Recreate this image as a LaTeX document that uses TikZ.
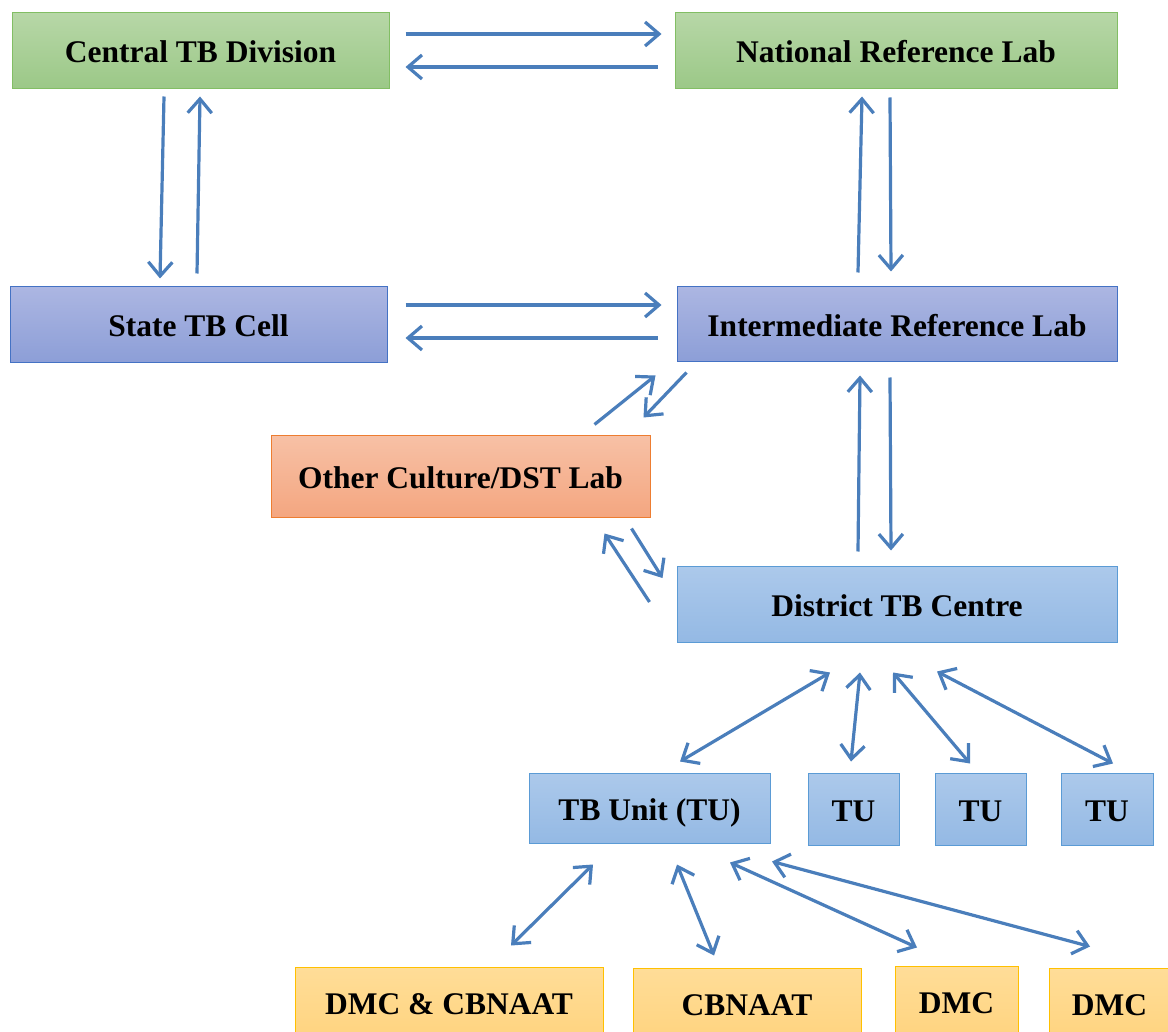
\documentclass[tikz,border=0pt]{standalone}
\usepackage{fontspec}
\setmainfont{Liberation Serif}
\usepackage{xcolor}
\usepackage{tikz}
\usetikzlibrary{positioning}
\usetikzlibrary{arrows.meta}

\definecolor{linkblue}{RGB}{74,126,187}
\definecolor{greentop}{RGB}{183,215,167}
\definecolor{greenbot}{RGB}{155,200,135}
\definecolor{greenline}{RGB}{130,190,100}
\definecolor{bluetop}{RGB}{172,182,226}
\definecolor{bluebot}{RGB}{140,158,215}
\definecolor{blueline}{RGB}{68,114,196}
\definecolor{skytop}{RGB}{172,201,235}
\definecolor{skybot}{RGB}{148,185,228}
\definecolor{skyline}{RGB}{91,155,213}
\definecolor{orangetop}{RGB}{247,193,166}
\definecolor{orangebot}{RGB}{244,166,128}
\definecolor{orangeline}{RGB}{237,125,49}
\definecolor{yellowtop}{RGB}{255,221,152}
\definecolor{yellowbot}{RGB}{255,212,128}
\definecolor{yellowline}{RGB}{255,192,0}

\begin{document}
\begin{tikzpicture}[
x=1pt, y=-1pt,
basebox/.style={rectangle, inner sep=0pt, line width=1pt, align=center, text height=26pt, text depth=2pt, font=\fontsize{31.5}{36}\selectfont\bfseries},
centralnode/.style={basebox, draw=greenline, top color=greentop, bottom color=greenbot},
statenode/.style={basebox, draw=blueline, top color=bluetop, bottom color=bluebot},
districtnode/.style={basebox, draw=skyline, top color=skytop, bottom color=skybot},
culturenode/.style={basebox, draw=orangeline, top color=orangetop, bottom color=orangebot},
labnode/.style={basebox, draw=yellowline, top color=yellowtop, bottom color=yellowbot},
link/.style={draw=linkblue, line width=3.2pt, -{Straight Barb[length=14pt,width=24pt]}},
twolink/.style={draw=linkblue, line width=3.2pt, {Straight Barb[length=14pt,width=24pt]}-{Straight Barb[length=14pt,width=24pt]}},
]
\useasboundingbox (0,0) rectangle (1168,1032);
\clip (0,0) rectangle (1168,1032);

%Nodes
\node[centralnode, minimum width=377pt, minimum height=76pt]	(ctd)	at (200.5,51)	{Central TB Division};
\node[centralnode, minimum width=442pt, minimum height=76pt]	(nrl)	at (896,51)		{National Reference Lab};
\node[statenode, minimum width=377pt, minimum height=76pt]		(stc)	at (198.5,325)	{State TB Cell};
\node[statenode, minimum width=440pt, minimum height=75pt]		(irl)	at (897,324.5)	{Intermediate Reference Lab};
\node[culturenode, minimum width=379pt, minimum height=82pt]	(oth)	at (460.5,476)	{Other Culture/DST Lab};
\node[districtnode, minimum width=440pt, minimum height=76pt]	(dtc)	at (897,604)	{District TB Centre};
\node[districtnode, minimum width=241pt, minimum height=70pt]	(tbu)	at (649.5,808)	{TB Unit (TU)};
\node[districtnode, minimum width=91pt, minimum height=72pt]	(tu1)	at (853.5,809)	{TU};
\node[districtnode, minimum width=91pt, minimum height=72pt]	(tu2)	at (980.5,809)	{TU};
\node[districtnode, minimum width=92pt, minimum height=72pt]	(tu3)	at (1107,809)	{TU};
\node[labnode, minimum width=308pt, minimum height=70pt]		(dc)	at (449,1002)	{DMC \& CBNAAT};
\node[labnode, minimum width=228pt, minimum height=70pt]		(cb)	at (747,1003)	{CBNAAT};
\node[labnode, minimum width=123pt, minimum height=70pt]		(dm1)	at (956.5,1001)	{DMC};
\node[labnode, minimum width=121pt, minimum height=70pt]		(dm2)	at (1109.5,1003)	{DMC};

%Lines
\draw[link] ([shift={(16,-17)}]ctd.east) -- ([shift={(-13,-17)}]nrl.west);
\draw[link] ([shift={(-17,16)}]nrl.west) -- ([shift={(16,16)}]ctd.east);
\draw[link] ([shift={(-36.5,7)}]ctd.south) -- ([shift={(-38.5,-8)}]stc.north);
\draw[link] ([shift={(-1.5,-13)}]stc.north) -- ([shift={(-0.5,7)}]ctd.south);
\draw[link] ([shift={(18,-20)}]stc.east) -- ([shift={(-15,-19.5)}]irl.west);
\draw[link] ([shift={(-19,13.5)}]irl.west) -- ([shift={(18,13)}]stc.east);
\draw[link] ([shift={(-39,-14)}]irl.north) -- ([shift={(-34,7)}]nrl.south);
\draw[link] ([shift={(-6,8)}]nrl.south) -- ([shift={(-6,-15)}]irl.north);
\draw[link] ([shift={(-56,-10)}]oth.north east) -- ([shift={(-21,13)}]irl.south west);
\draw[link] ([shift={(10,10)}]irl.south west) -- ([shift={(-7,-17)}]oth.north east);
\draw[link] ([shift={(-39,-14)}]dtc.north) -- ([shift={(-37,13)}]irl.south);
\draw[link] ([shift={(-7,15)}]irl.south) -- ([shift={(-6,-15)}]dtc.north);
\draw[link] ([shift={(-27,-2)}]dtc.west) -- ([shift={(-46,16)}]oth.south east);
\draw[link] ([shift={(-19,11)}]oth.south east) -- ([shift={(-14,-26)}]dtc.west);
\draw[twolink] ([shift={(-67,30)}]dtc.south) -- ([shift={(30.5,-11)}]tbu.north);
\draw[twolink] ([shift={(-37,30)}]dtc.south) -- ([shift={(-2.5,-11)}]tu1.north);
\draw[twolink] ([shift={(-4,30)}]dtc.south) -- ([shift={(-10.5,-9)}]tu2.north);
\draw[twolink] ([shift={(40,29)}]dtc.south) -- ([shift={(6,-9)}]tu3.north);
\draw[twolink] ([shift={(-56.5,21)}]tbu.south) -- ([shift={(62,-21)}]dc.north);
\draw[twolink] ([shift={(27.5,21)}]tbu.south) -- ([shift={(-33,-12)}]cb.north);
\draw[twolink] ([shift={(80.5,19)}]tbu.south) -- ([shift={(-39.5,-18)}]dm1.north);
\draw[twolink] ([shift={(122.5,18)}]tbu.south) -- ([shift={(-19.5,-21)}]dm2.north);
\end{tikzpicture}
\end{document}
